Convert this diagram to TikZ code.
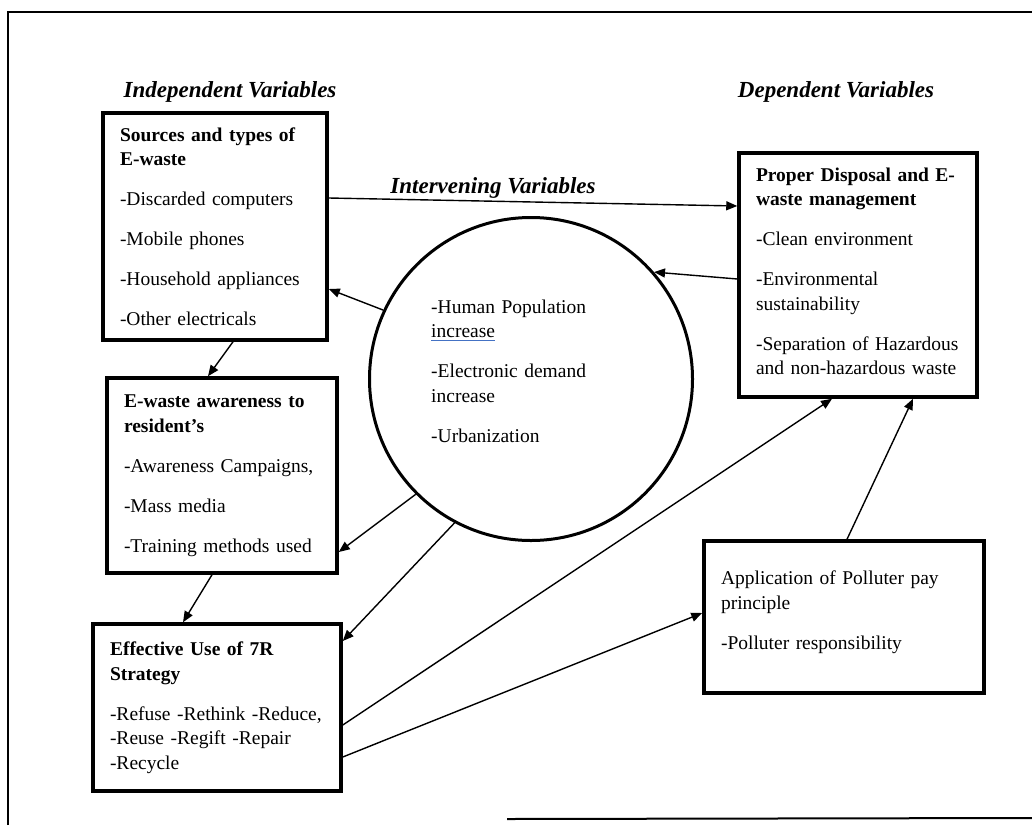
\documentclass[tikz,border=0pt]{standalone}
\usepackage{fontspec}
\setmainfont{Liberation Serif}
\usepackage{xcolor}
\usetikzlibrary{arrows.meta,positioning,calc}
\definecolor{spellblue}{HTML}{4472C4}
\newcommand{\spellmark}[1]{\leavevmode\setbox0\hbox{#1}\rlap{\color{spellblue}\rule[-3.5pt]{\wd0}{1.1pt}}\box0}

\begin{document}
\begin{tikzpicture}[
  x=1pt,y=-1pt,
  varbox/.style={draw,line width=3.5pt,rectangle,inner xsep=17pt,inner ysep=0pt,
              align=left,font=\fontsize{19.5}{24.5}\selectfont},
  heading/.style={font=\fontsize{23}{27}\selectfont\bfseries\itshape,inner sep=0pt,anchor=base},
  arr/.style={-{Triangle[length=11pt,width=9pt]},line width=1.4pt}
]
  \useasboundingbox (0,0) rectangle (1032,825);

  % Outer frame
  \draw[line width=2pt] (8,825) -- (8,12) -- (1032,12);
  \draw[line width=2pt] (507,819) -- (1032,818);

  % Headings
  \node[heading] (indep) at (230,97) {Independent Variables};
  \node[heading] (dep) at (836,97) {Dependent Variables};
  \node[heading] (interv) at (493,193) {Intervening Variables};

  % Independent variables
  \node[varbox,text width=190pt,minimum width=224pt,minimum height=227pt] (src) at (215,226.5)
    {{\bfseries Sources and types of\\E-waste}\\[15.5pt]-Discarded computers\\[15.5pt]-Mobile phones\\[15.5pt]-Household appliances\\[15.5pt]-Other electricals};
  \node[varbox,text width=196pt,minimum width=230pt,minimum height=195pt] (aware) at (222,475.5)
    {{\bfseries E-waste awareness to\\resident’s}\\[15.5pt]-Awareness Campaigns,\\[15.5pt]-Mass media\\[15.5pt]-Training methods used};
  \node[varbox,text width=214pt,minimum width=248pt,minimum height=167pt] (strat) at (217,707.5)
    {{\bfseries Effective Use of 7R\\Strategy}\\[15.5pt]-Refuse -Rethink -Reduce,\\-Reuse -Regift -Repair\\-Recycle};

  % Intervening variables
  \node[circle,draw,line width=3pt,minimum size=323pt,inner sep=0pt] (drivers) at (531,379) {};
  \node[anchor=base west,text width=175pt,inner sep=0pt,align=left,
        font=\fontsize{19.5}{24.5}\selectfont] (drvtext) at (431,313)
    {-Human Population\\\spellmark{increase}\\[15.5pt]-Electronic demand\\increase\\[15.5pt]-Urbanization};

  % Dependent variables
  \node[varbox,text width=204pt,minimum width=238pt,minimum height=244pt] (dispo) at (858,275)
    {{\bfseries Proper Disposal and E-\\waste management}\\[15.5pt]-Clean environment\\[15.5pt]-Environmental\\sustainability\\[15.5pt]-Separation of Hazardous\\and non-hazardous waste\rule[-8pt]{0pt}{8pt}};
  \node[varbox,text width=246pt,minimum width=280pt,minimum height=152pt] (polluter) at (844,617)
    {Application of Polluter pay\\principle\\[15.5pt]-Polluter responsibility\rule[-14pt]{0pt}{14pt}};

  % Arrows
  \draw[arr] ([yshift=28.5pt]src.east) -- ([yshift=69pt]dispo.west);
  \draw[arr] ([yshift=-4pt]dispo.west) -- (drivers.41);
  \draw[arr] (drivers.155) -- ([yshift=-62.5pt]src.east);
  \draw[arr] ([xshift=18pt]src.south) -- ([xshift=-14pt]aware.north);
  \draw[arr] (drivers.225) -- ([yshift=-76.5pt]aware.east);
  \draw[arr] ([xshift=-10pt]aware.south) -- ([xshift=-34pt]strat.north);
  \draw[arr] (drivers.242) -- ([yshift=66.5pt]strat.east);
  \draw[arr] ([yshift=-17.5pt]strat.east) -- ([xshift=-26pt]dispo.south);
  \draw[arr] ([yshift=-49.5pt]strat.east) -- ([yshift=4pt]polluter.west);
  \draw[arr] ([xshift=3pt]polluter.north) -- ([xshift=55pt]dispo.south);
\end{tikzpicture}
\end{document}
